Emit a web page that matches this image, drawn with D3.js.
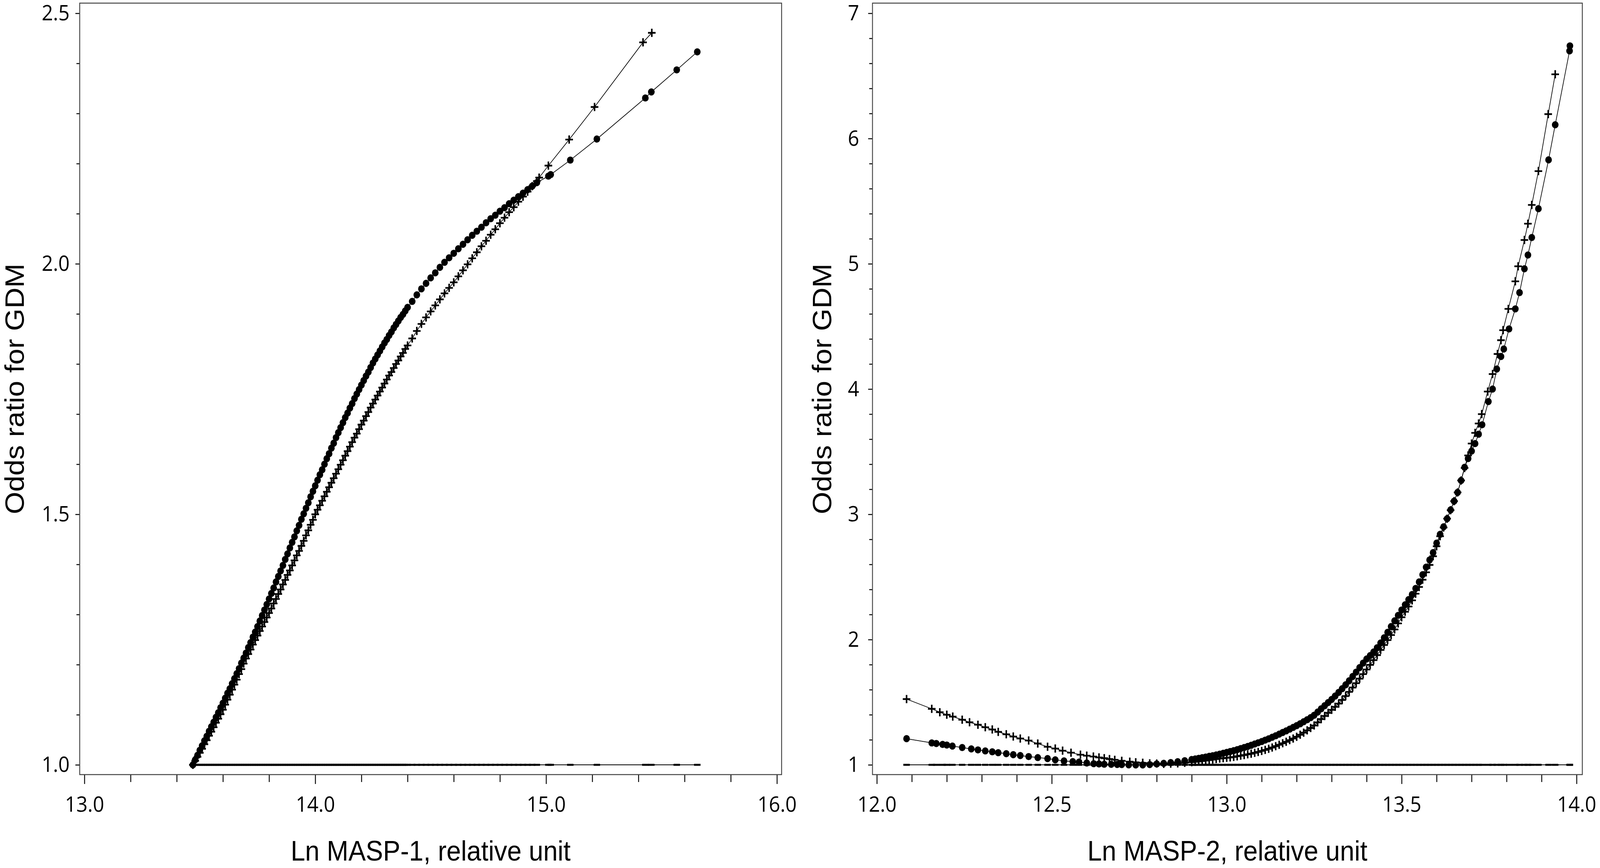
<!DOCTYPE html>
<html>
<head>
<meta charset="utf-8">
<script src="https://cdn.jsdelivr.net/npm/d3@7"></script>
<style>
    html, body { margin: 0; padding: 0; background: #fff; width: 100%; height: 100%; overflow: hidden; }
    svg { display: block; }
</style>
</head>
<body>
<div id="chart"></div>
<script>
// MASP-1 panel: [ln MASP-1, odds ratio]
var masp1Circle = [
    [13.47,1.000],[13.48,1.010],[13.49,1.019],[13.50,1.029],[13.51,1.038],[13.52,1.048],[13.53,1.057],
    [13.54,1.067],[13.55,1.076],[13.56,1.085],[13.57,1.095],[13.58,1.104],[13.59,1.114],[13.60,1.123],
    [13.61,1.133],[13.62,1.143],[13.63,1.152],[13.64,1.162],[13.65,1.172],[13.66,1.182],[13.67,1.192],
    [13.68,1.203],[13.69,1.213],[13.70,1.223],[13.71,1.234],[13.72,1.244],[13.73,1.255],[13.74,1.265],
    [13.75,1.276],[13.76,1.287],[13.77,1.298],[13.78,1.309],[13.79,1.320],[13.80,1.331],[13.81,1.342],
    [13.82,1.353],[13.83,1.365],[13.84,1.376],[13.85,1.387],[13.86,1.398],[13.87,1.410],[13.88,1.421],
    [13.89,1.433],[13.90,1.444],[13.91,1.455],[13.92,1.467],[13.93,1.478],[13.94,1.490],[13.95,1.501],
    [13.96,1.512],[13.97,1.523],[13.98,1.535],[13.99,1.546],[14.00,1.557],[14.01,1.568],[14.02,1.579],
    [14.03,1.589],[14.04,1.600],[14.05,1.611],[14.06,1.621],[14.07,1.632],[14.08,1.642],[14.09,1.653],
    [14.10,1.663],[14.11,1.673],[14.12,1.683],[14.13,1.693],[14.14,1.702],[14.15,1.712],[14.16,1.721],
    [14.17,1.731],[14.18,1.740],[14.19,1.749],[14.20,1.758],[14.21,1.767],[14.22,1.776],[14.23,1.784],
    [14.24,1.793],[14.25,1.802],[14.26,1.810],[14.27,1.818],[14.28,1.826],[14.29,1.834],[14.30,1.842],
    [14.31,1.849],[14.32,1.857],[14.33,1.864],[14.34,1.872],[14.35,1.879],[14.36,1.886],[14.37,1.893],
    [14.38,1.899],[14.39,1.906],[14.40,1.913],[14.42,1.925],[14.44,1.938],[14.46,1.950],[14.48,1.961],
    [14.50,1.972],[14.52,1.982],[14.54,1.993],[14.56,2.003],[14.58,2.012],[14.60,2.021],[14.62,2.030],
    [14.64,2.039],[14.66,2.048],[14.68,2.057],[14.70,2.065],[14.72,2.073],[14.74,2.082],[14.76,2.090],
    [14.78,2.097],[14.80,2.105],[14.82,2.112],[14.84,2.120],[14.86,2.127],[14.88,2.134],[14.90,2.141],
    [14.92,2.148],[14.94,2.155],[14.96,2.162],[15.01,2.175],[15.02,2.178],[15.105,2.207],[15.22,2.249],
    [15.43,2.331],[15.456,2.343],[15.566,2.387],[15.655,2.423]
];
var masp1Plus = [
    [13.47,1.000],[13.48,1.008],[13.49,1.016],[13.50,1.024],[13.51,1.032],[13.52,1.041],[13.53,1.049],
    [13.54,1.058],[13.55,1.066],[13.56,1.075],[13.57,1.084],[13.58,1.092],[13.59,1.101],[13.60,1.110],
    [13.61,1.120],[13.62,1.130],[13.63,1.140],[13.64,1.150],[13.65,1.160],[13.66,1.170],[13.67,1.181],
    [13.68,1.191],[13.69,1.202],[13.70,1.212],[13.71,1.221],[13.72,1.230],[13.73,1.240],[13.74,1.249],
    [13.75,1.258],[13.76,1.267],[13.77,1.276],[13.78,1.285],[13.79,1.294],[13.80,1.303],[13.81,1.312],
    [13.82,1.322],[13.83,1.331],[13.84,1.341],[13.85,1.350],[13.86,1.360],[13.87,1.369],[13.88,1.379],
    [13.89,1.388],[13.90,1.398],[13.91,1.408],[13.92,1.418],[13.93,1.427],[13.94,1.437],[13.95,1.447],
    [13.96,1.458],[13.97,1.468],[13.98,1.479],[13.99,1.489],[14.00,1.500],[14.01,1.509],[14.02,1.518],
    [14.03,1.527],[14.04,1.536],[14.05,1.545],[14.06,1.554],[14.07,1.563],[14.08,1.572],[14.09,1.581],
    [14.10,1.590],[14.11,1.599],[14.12,1.608],[14.13,1.617],[14.14,1.626],[14.15,1.635],[14.16,1.644],
    [14.17,1.653],[14.18,1.661],[14.19,1.670],[14.20,1.679],[14.21,1.687],[14.22,1.696],[14.23,1.704],
    [14.24,1.713],[14.25,1.721],[14.26,1.729],[14.27,1.737],[14.28,1.745],[14.29,1.753],[14.30,1.761],
    [14.31,1.769],[14.32,1.777],[14.33,1.784],[14.34,1.792],[14.35,1.800],[14.36,1.807],[14.37,1.815],
    [14.38,1.822],[14.39,1.830],[14.40,1.837],[14.42,1.851],[14.44,1.866],[14.46,1.880],[14.48,1.893],
    [14.50,1.905],[14.52,1.917],[14.54,1.929],[14.56,1.941],[14.58,1.952],[14.60,1.963],[14.62,1.975],
    [14.64,1.987],[14.66,1.999],[14.68,2.011],[14.70,2.023],[14.72,2.035],[14.74,2.046],[14.76,2.058],
    [14.78,2.069],[14.80,2.081],[14.82,2.092],[14.84,2.103],[14.86,2.113],[14.88,2.124],[14.90,2.134],
    [14.92,2.144],[14.94,2.155],[14.96,2.165],[14.97,2.172],[15.01,2.196],[15.10,2.248],[15.21,2.313],
    [15.42,2.442],[15.458,2.461]
];

// MASP-2 panel: [ln MASP-2, odds ratio]
var masp2Circle = [
    [12.085,1.209],[12.157,1.175],[12.17,1.170],[12.188,1.163],[12.20,1.158],[12.216,1.150],[12.244,1.138],
    [12.27,1.127],[12.289,1.119],[12.31,1.111],[12.33,1.104],[12.347,1.097],[12.37,1.089],[12.39,1.081],
    [12.41,1.074],[12.434,1.066],[12.46,1.058],[12.488,1.050],[12.51,1.040],[12.535,1.031],[12.56,1.026],
    [12.578,1.022],[12.60,1.015],[12.62,1.009],[12.635,1.007],[12.65,1.005],[12.67,1.004],[12.687,1.003],
    [12.70,1.002],[12.72,1.000],[12.74,0.999],[12.76,0.999],[12.78,1.002],[12.80,1.007],[12.82,1.012],
    [12.84,1.018],[12.86,1.025],[12.88,1.033],[12.90,1.042],[12.91,1.047],[12.92,1.052],[12.93,1.057],
    [12.94,1.062],[12.95,1.068],[12.96,1.073],[12.97,1.079],[12.98,1.085],[12.99,1.092],[13.00,1.099],
    [13.01,1.106],[13.02,1.113],[13.03,1.121],[13.04,1.130],[13.05,1.138],[13.06,1.147],[13.07,1.156],
    [13.08,1.166],[13.09,1.176],[13.10,1.186],[13.11,1.197],[13.12,1.208],[13.13,1.220],[13.14,1.232],
    [13.15,1.245],[13.16,1.258],[13.17,1.271],[13.18,1.285],[13.19,1.299],[13.20,1.313],[13.21,1.328],
    [13.22,1.344],[13.23,1.360],[13.24,1.377],[13.25,1.396],[13.26,1.421],[13.27,1.447],[13.28,1.472],
    [13.29,1.497],[13.30,1.522],[13.31,1.549],[13.32,1.578],[13.33,1.608],[13.34,1.639],[13.35,1.671],
    [13.36,1.705],[13.37,1.740],[13.38,1.776],[13.39,1.812],[13.40,1.845],[13.41,1.872],[13.42,1.901],
    [13.43,1.935],[13.44,1.973],[13.45,2.014],[13.46,2.058],[13.47,2.104],[13.48,2.150],[13.49,2.193],
    [13.50,2.236],[13.51,2.278],[13.52,2.319],[13.53,2.360],[13.54,2.408],[13.55,2.460],[13.56,2.518],
    [13.57,2.578],[13.58,2.636],[13.59,2.694],[13.60,2.770],[13.61,2.840],[13.62,2.900],[13.63,2.965],
    [13.64,3.035],[13.65,3.105],[13.66,3.175],[13.67,3.270],[13.68,3.375],[13.69,3.445],[13.70,3.505],
    [13.71,3.565],[13.72,3.640],[13.73,3.715],[13.748,3.900],[13.76,4.000],[13.772,4.160],[13.784,4.260],
    [13.792,4.320],[13.807,4.480],[13.825,4.640],[13.837,4.770],[13.851,4.960],[13.861,5.070],[13.872,5.210],
    [13.891,5.440],[13.92,5.830],[13.939,6.110],[13.98,6.700],[13.981,6.740]
];
var masp2Plus = [
    [12.085,1.525],[12.157,1.447],[12.18,1.420],[12.20,1.400],[12.217,1.385],[12.244,1.360],[12.265,1.340],
    [12.289,1.320],[12.31,1.300],[12.33,1.282],[12.347,1.263],[12.37,1.244],[12.39,1.226],[12.41,1.210],
    [12.434,1.194],[12.46,1.170],[12.488,1.144],[12.51,1.130],[12.531,1.113],[12.555,1.097],[12.582,1.081],
    [12.60,1.073],[12.619,1.066],[12.635,1.059],[12.65,1.053],[12.665,1.046],[12.68,1.040],[12.70,1.032],
    [12.723,1.025],[12.74,1.020],[12.76,1.016],[12.78,1.012],[12.80,1.010],[12.82,1.008],[12.84,1.009],
    [12.86,1.012],[12.88,1.016],[12.90,1.021],[12.91,1.024],[12.92,1.027],[12.93,1.030],[12.94,1.034],
    [12.95,1.038],[12.96,1.042],[12.97,1.046],[12.98,1.050],[12.99,1.053],[13.00,1.056],[13.01,1.059],
    [13.02,1.063],[13.03,1.068],[13.04,1.073],[13.05,1.078],[13.06,1.084],[13.07,1.089],[13.08,1.096],
    [13.09,1.103],[13.10,1.111],[13.11,1.119],[13.12,1.128],[13.13,1.138],[13.14,1.149],[13.15,1.160],
    [13.16,1.172],[13.17,1.184],[13.18,1.197],[13.19,1.210],[13.20,1.224],[13.21,1.240],[13.22,1.257],
    [13.23,1.275],[13.24,1.294],[13.25,1.314],[13.26,1.339],[13.27,1.365],[13.28,1.390],[13.29,1.415],
    [13.30,1.439],[13.31,1.463],[13.32,1.489],[13.33,1.518],[13.34,1.549],[13.35,1.582],[13.36,1.617],
    [13.37,1.652],[13.38,1.688],[13.39,1.724],[13.40,1.761],[13.41,1.798],[13.42,1.836],[13.43,1.876],
    [13.44,1.917],[13.45,1.957],[13.46,1.996],[13.47,2.036],[13.48,2.081],[13.49,2.129],[13.50,2.178],
    [13.51,2.222],[13.52,2.264],[13.53,2.313],[13.54,2.366],[13.55,2.420],[13.56,2.478],[13.57,2.537],
    [13.58,2.596],[13.59,2.665],[13.60,2.745],[13.61,2.825],[13.62,2.895],[13.63,2.965],[13.64,3.033],
    [13.65,3.105],[13.66,3.175],[13.67,3.270],[13.68,3.370],[13.69,3.470],[13.70,3.565],[13.71,3.650],
    [13.72,3.725],[13.729,3.800],[13.746,3.980],[13.76,4.120],[13.774,4.280],[13.784,4.390],[13.79,4.470],
    [13.805,4.640],[13.825,4.860],[13.833,4.980],[13.851,5.190],[13.861,5.320],[13.872,5.470],[13.891,5.740],
    [13.919,6.195],[13.939,6.513]
];

// reference odds ratio (drawn at every observed value)
var refOdds = 1;

var masp1XTicks = ['13.0', '14.0', '15.0', '16.0'];
var masp1YTicks = ['1.0', '1.5', '2.0', '2.5'];
var masp2XTicks = ['12.0', '12.5', '13.0', '13.5', '14.0'];
var masp2YTicks = ['1', '2', '3', '4', '5', '6', '7'];

var titles = {
    masp1X: 'Ln MASP-1, relative unit',
    masp2X: 'Ln MASP-2, relative unit',
    y: 'Odds ratio for GDM'
};

var tickFont = '"Open Sans", "Noto Sans", sans-serif';
var titleFont = '"Liberation Sans", Arial, sans-serif';

// the drawing is laid out on a 4436x2221 grid and stretched to the window
var W = 4436, H = 2221;
var svg = d3.select('#chart').append('svg')
    .attr('viewBox', '0 0 ' + W + ' ' + H)
    .attr('preserveAspectRatio', 'none')
    .style('width', '100vw')
    .style('height', '100vh');

function minorTicks(lo, hi, step, majors) {
    return d3.range(lo, hi + step / 2, step).filter(function (v) {
        return !majors.some(function (m) { return Math.abs(m - v) < 1e-6; });
    });
}

function drawPanel(cfg) {
    var x = d3.scaleLinear().domain(cfg.xDomain).range(cfg.xRange);
    var y = d3.scaleLinear().domain(cfg.yDomain).range(cfg.yRange);
    var f = cfg.frame; // left, top, right, bottom

    var g = svg.append('g').attr('id', cfg.id);

    var xMajor = cfg.xTicks.map(Number);
    var yMajor = cfg.yTicks.map(Number);

    // x axis: minor then major
    g.append('g')
        .attr('transform', 'translate(0,' + f[3] + ')')
        .call(d3.axisBottom(x).tickValues(minorTicks(xMajor[0], xMajor[xMajor.length - 1], cfg.xMinorStep, xMajor)).tickSize(19).tickFormat(''))
        .call(function (a) { a.select('.domain').remove(); });

    var xa = g.append('g')
        .attr('transform', 'translate(0,' + f[3] + ')')
        .call(d3.axisBottom(x).tickValues(xMajor).tickSize(24).tickFormat(function (d, i) { return cfg.xTicks[i]; }))
        .call(function (a) { a.select('.domain').remove(); });
    xa.attr('font-family', tickFont).attr('font-size', 55);
    xa.selectAll('text').attr('y', 95).attr('dy', null).style('fill', '#000');

    // y axis
    g.append('g')
        .attr('transform', 'translate(' + f[0] + ',0)')
        .call(d3.axisLeft(y).tickValues(minorTicks(yMajor[0], yMajor[yMajor.length - 1], cfg.yMinorStep, yMajor)).tickSize(9).tickFormat(''))
        .call(function (a) { a.select('.domain').remove(); });

    var ya = g.append('g')
        .attr('transform', 'translate(' + f[0] + ',0)')
        .call(d3.axisLeft(y).tickValues(yMajor).tickSize(12).tickPadding(cfg.yPad).tickFormat(function (d, i) { return cfg.yTicks[i]; }))
        .call(function (a) { a.select('.domain').remove(); });
    ya.attr('font-family', tickFont).attr('font-size', 55);
    ya.selectAll('text').style('fill', '#000');

    g.selectAll('.tick line').style('stroke', '#000').style('stroke-width', 2.5);

    // frame
    g.append('rect')
        .attr('x', f[0])
        .attr('y', f[1])
        .attr('width', f[2] - f[0])
        .attr('height', f[3] - f[1])
        .style('fill', 'none')
        .style('stroke', '#444')
        .style('stroke-width', 2.5);

    var line = d3.line()
        .x(function (d) { return x(d[0]); })
        .y(function (d) { return y(d[1]); });

    var refData = cfg.circles.map(function (d) { return [d[0], refOdds]; });

    var plot = g.append('g').attr('class', 'plot');

    // reference line with dash markers
    plot.append('path')
        .datum(refData)
        .attr('d', line)
        .style('fill', 'none')
        .style('stroke', '#000')
        .style('stroke-width', 1.8);
    plot.selectAll('path.dash')
        .data(refData)
        .enter()
        .append('path')
        .attr('class', 'dash')
        .attr('transform', function (d) { return 'translate(' + x(d[0]) + ',' + y(d[1]) + ')'; })
        .attr('d', 'M-9,0H9')
        .style('stroke', '#000')
        .style('stroke-width', 5);

    // plus series
    plot.append('path')
        .datum(cfg.pluses)
        .attr('d', line)
        .style('fill', 'none')
        .style('stroke', '#000')
        .style('stroke-width', 1.8);
    plot.selectAll('path.plus')
        .data(cfg.pluses)
        .enter()
        .append('path')
        .attr('class', 'plus')
        .attr('transform', function (d) { return 'translate(' + x(d[0]) + ',' + y(d[1]) + ')'; })
        .attr('d', 'M-10.5,0H10.5M0,-10.5V10.5')
        .style('stroke', '#000')
        .style('stroke-width', 4.3);

    // circle series
    plot.append('path')
        .datum(cfg.circles)
        .attr('d', line)
        .style('fill', 'none')
        .style('stroke', '#000')
        .style('stroke-width', 1.8);
    plot.selectAll('circle')
        .data(cfg.circles)
        .enter()
        .append('circle')
        .attr('cx', function (d) { return x(d[0]); })
        .attr('cy', function (d) { return y(d[1]); })
        .attr('r', 9.2)
        .style('fill', '#000');

    // titles
    g.append('text')
        .attr('x', (f[0] + f[2]) / 2)
        .attr('y', 2202)
        .attr('text-anchor', 'middle')
        .attr('font-family', titleFont)
        .attr('font-size', 72)
        .text(cfg.xTitle);

    g.append('text')
        .attr('transform', 'translate(' + cfg.yTitleX + ',' + (f[1] + f[3]) / 2 + ') rotate(-90)')
        .attr('text-anchor', 'middle')
        .attr('font-family', titleFont)
        .attr('font-size', 74)
        .text(cfg.yTitle);
}

drawPanel({
    id: 'masp1',
    frame: [221, 8, 2167, 1982],
    xDomain: [13, 16], xRange: [234, 2154],
    yDomain: [1, 2.5], yRange: [1957, 34],
    xTicks: masp1XTicks, yTicks: masp1YTicks,
    xMinorStep: 0.2, yMinorStep: 0.1,
    yPad: 16,
    xTitle: titles.masp1X, yTitle: titles.y, yTitleX: 66,
    circles: masp1Circle, pluses: masp1Plus
});

drawPanel({
    id: 'masp2',
    frame: [2419, 8, 4387, 1982],
    xDomain: [12, 14], xRange: [2431, 4371],
    yDomain: [1, 7], yRange: [1957, 34],
    xTicks: masp2XTicks, yTicks: masp2YTicks,
    xMinorStep: 0.1, yMinorStep: 0.2,
    yPad: 25,
    xTitle: titles.masp2X, yTitle: titles.y, yTitleX: 2305,
    circles: masp2Circle, pluses: masp2Plus
});
</script>
</body>
</html>
